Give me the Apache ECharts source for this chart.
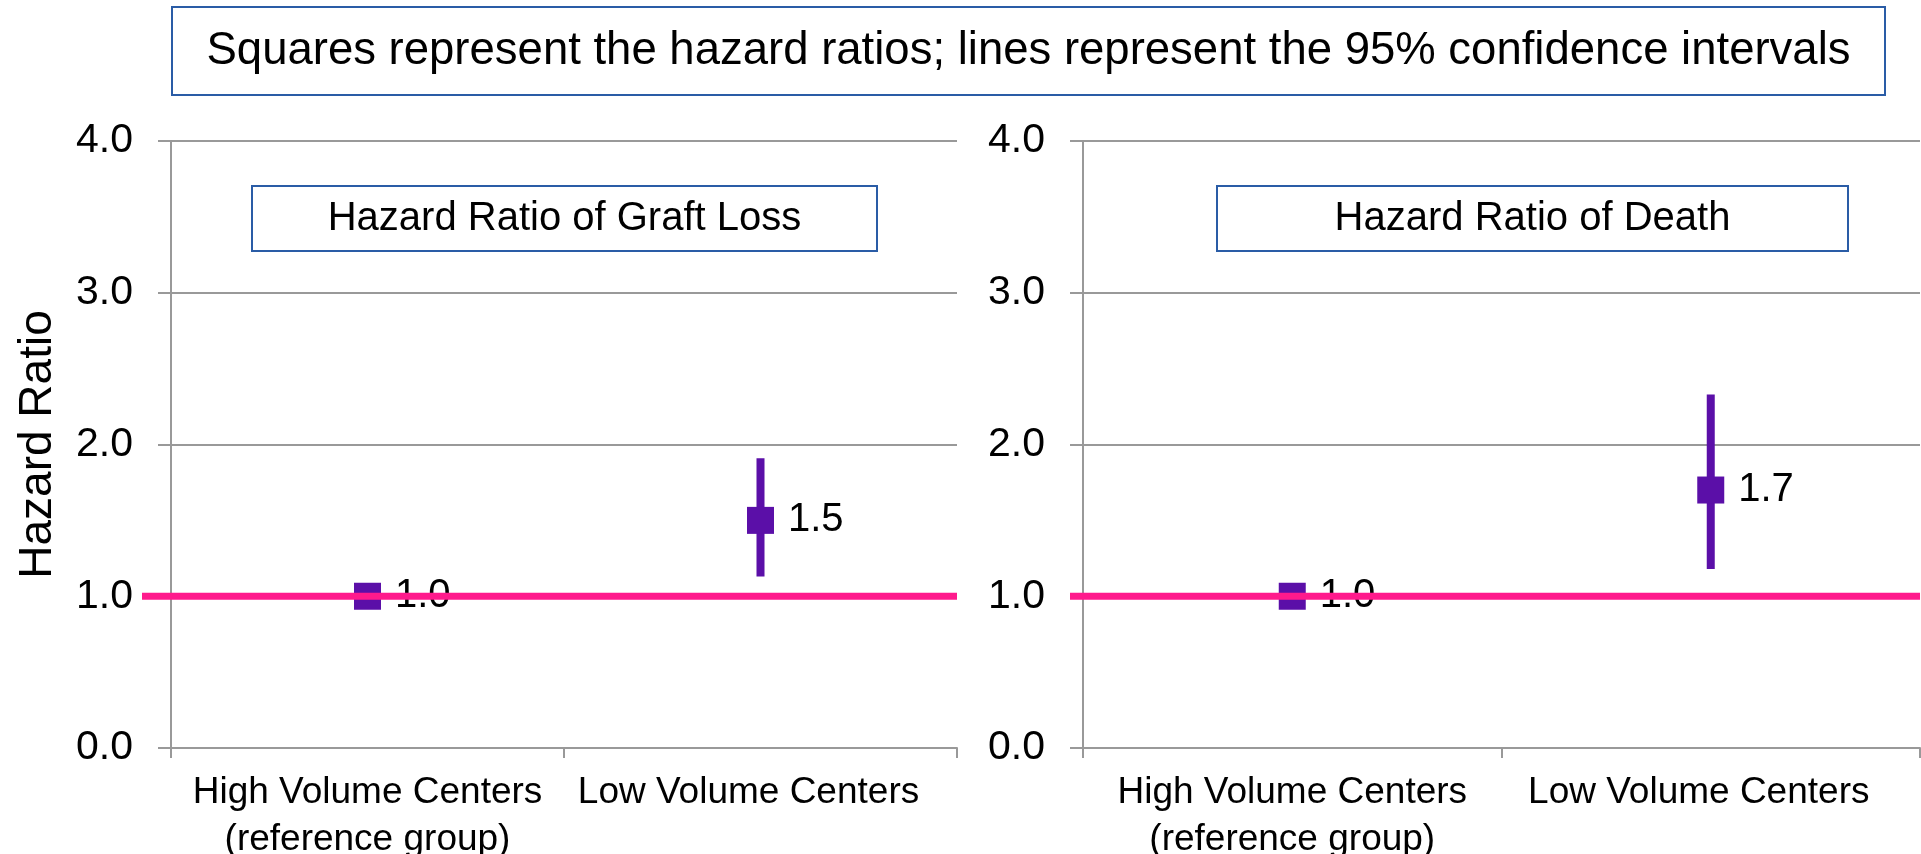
<!DOCTYPE html>
<html><head><meta charset="utf-8">
<script src="https://cdn.jsdelivr.net/npm/echarts@6/dist/echarts.min.js"></script>
<style>html,body{margin:0;padding:0;background:#fff}#c{width:1921px;height:854px}</style>
</head><body><div id="c"></div>
<script>
// ---- data ----
const categories = ['High Volume Centers\n(reference group)', 'Low Volume Centers'];
const yTicks = ['0.0', '1.0', '2.0', '3.0', '4.0'];
const graftHR = [1.0, 1.5];
const graftLow = [1.0, 1.13];
const graftHigh = [1.0, 1.91];
const deathHR = [1.0, 1.7];
const deathLow = [1.0, 1.18];
const deathHigh = [1.0, 2.33];
const referenceHR = [1.0, 1.0];
const mainTitle = 'Squares represent the hazard ratios; lines represent the 95% confidence intervals';
const panelTitles = ['Hazard Ratio of Graft Loss', 'Hazard Ratio of Death'];
const yName = 'Hazard Ratio';

// ---- styles ----
const FONT = '"Liberation Sans", Arial, Helvetica, sans-serif';
const PURPLE = '#5B0FA8';
const PINK = '#FF1A8C';
const GRAY = '#999999';
const BLUE = '#2A5CA6';

const chart = echarts.init(document.getElementById('c'), null, {renderer: 'canvas'});

function yAxisDef(gridIndex, withName) {
  return {
    gridIndex, type: 'value', min: 0, max: 4, interval: 1,
    name: withName ? yName : '', nameLocation: 'middle', nameRotate: 90, nameGap: 110,
    nameTextStyle: {fontFamily: FONT, fontSize: 46, color: '#000'},
    axisLine: {show: true, lineStyle: {color: GRAY, width: 2}},
    axisTick: {show: true, length: 13, lineStyle: {color: GRAY, width: 2}},
    splitLine: {show: true, lineStyle: {color: GRAY, width: 2}},
    axisLabel: {fontFamily: FONT, fontSize: 41, color: '#000', margin: 38,
      formatter: v => yTicks[Math.round(v)]}
  };
}
function xAxisDef(gridIndex) {
  return {
    gridIndex, type: 'category', data: categories, boundaryGap: true,
    axisLine: {show: true, lineStyle: {color: GRAY, width: 2}},
    axisTick: {show: true, length: 10, alignWithLabel: false, lineStyle: {color: GRAY, width: 2}},
    splitLine: {show: false},
    axisLabel: {fontFamily: FONT, fontSize: 37, lineHeight: 47, color: '#000', margin: 21, interval: 0,
      formatter: (v, i) => i === 1 ? '{low|' + v + '}' : v,
      rich: {low: {fontFamily: FONT, fontSize: 37, lineHeight: 47, color: '#000', padding: [0, 24, 0, 0]}}}
  };
}
function hiddenX(gridIndex) {
  return {gridIndex, type: 'value', min: 0, max: 1, show: false};
}
function hiddenY(gridIndex) {
  return {gridIndex, type: 'value', min: 0, max: 4, show: false};
}
function errorSeries(idx, low, high) {
  return {
    type: 'custom', xAxisIndex: idx, yAxisIndex: idx, z: 2,
    data: categories.map((c, i) => [i, low[i], high[i]]),
    encode: {x: 0, y: [1, 2]},
    renderItem: (params, api) => {
      const a = api.coord([api.value(0), api.value(1)]);
      const b = api.coord([api.value(0), api.value(2)]);
      return {type: 'line', shape: {x1: a[0], y1: a[1], x2: b[0], y2: b[1]},
        style: {stroke: PURPLE, lineWidth: 8}};
    }
  };
}
function pointSeries(idx, hr) {
  return {
    type: 'scatter', xAxisIndex: idx, yAxisIndex: idx, z: 3,
    symbol: 'rect', symbolSize: 27,
    itemStyle: {color: PURPLE, opacity: 1},
    data: categories.map((c, i) => [i, hr[i]]),
    label: {show: true, position: 'right', distance: 14, fontFamily: FONT, fontSize: 40, color: '#000', opacity: 1,
      formatter: p => p.value[1].toFixed(1)}
  };
}
function refSeries(idx) {
  return {
    type: 'line', xAxisIndex: idx, yAxisIndex: idx, z: 10, symbol: 'none', silent: true,
    lineStyle: {color: PINK, width: 7},
    data: [[0, referenceHR[0]], [1, referenceHR[1]]]
  };
}

function boxGraphic(x, y, w, h, text, size) {
  return [
    {type: 'rect', shape: {x, y, width: w, height: h}, z: 20,
      style: {fill: '#fff', stroke: BLUE, lineWidth: 2}},
    {type: 'text', x: x + w / 2, y: y + h / 2, z: 21,
      style: {text, fill: '#000', font: size + 'px ' + FONT, align: 'center', verticalAlign: 'middle'}}
  ];
}

const gridBase = {top: 141, height: 607, containLabel: false, outerBoundsMode: 'none'};
const option = {
  backgroundColor: '#fff',
  animation: false,
  grid: [
    Object.assign({left: 171, width: 786}, gridBase),
    Object.assign({left: 1083, width: 837}, gridBase),
    Object.assign({left: 142, width: 815}, gridBase),
    Object.assign({left: 1070, width: 850}, gridBase)
  ],
  xAxis: [xAxisDef(0), xAxisDef(1), hiddenX(2), hiddenX(3)],
  yAxis: [yAxisDef(0, true), yAxisDef(1, false), hiddenY(2), hiddenY(3)],
  series: [
    errorSeries(0, graftLow, graftHigh), pointSeries(0, graftHR),
    errorSeries(1, deathLow, deathHigh), pointSeries(1, deathHR),
    refSeries(2), refSeries(3)
  ],
  graphic: [].concat(
    boxGraphic(172, 7, 1713, 88, mainTitle, 45.5),
    boxGraphic(252, 186, 625, 65, panelTitles[0], 40),
    boxGraphic(1217, 186, 631, 65, panelTitles[1], 40)
  )
};
chart.setOption(option);
</script></body></html>
